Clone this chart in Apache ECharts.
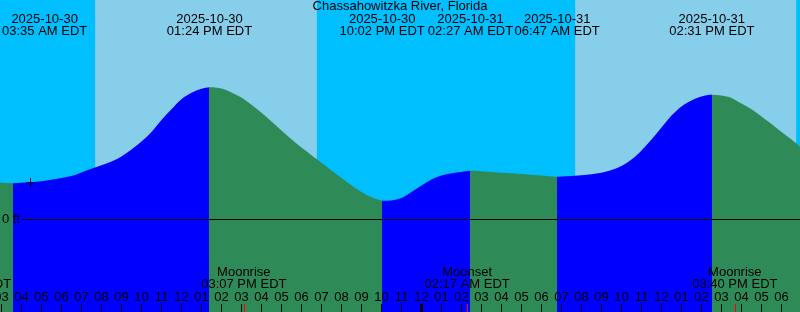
<!DOCTYPE html>
<html><head><meta charset="utf-8">
<script src="https://cdn.jsdelivr.net/npm/echarts@6/dist/echarts.min.js"></script>
<style>html,body{margin:0;padding:0;background:#fff}#c{width:800px;height:312px}</style>
</head><body><div id="c"></div>
<script>
// ---- data (times are local EDT, "MM-DD HH:MM") ----
const chartTitle = 'Chassahowitzka River, Florida';
const sampleTimes = ['10-30 02:55','10-30 03:00','10-30 04:00','10-30 05:00','10-30 06:00','10-30 06:30','10-30 07:00','10-30 07:30','10-30 08:00','10-30 08:30','10-30 09:00','10-30 09:30','10-30 10:00','10-30 10:30','10-30 11:00','10-30 11:30','10-30 12:00','10-30 12:30','10-30 13:00','10-30 14:00','10-30 14:30','10-30 15:00','10-30 15:30','10-30 16:00','10-30 16:30','10-30 17:00','10-30 17:30','10-30 18:00','10-30 18:30','10-30 19:00','10-30 19:30','10-30 20:00','10-30 20:30','10-30 21:00','10-30 21:30','10-30 22:00','10-30 22:30','10-30 23:00','10-30 23:30','10-31 00:00','10-31 00:30','10-31 01:00','10-31 01:30','10-31 02:00','10-31 03:00','10-31 04:00','10-31 05:00','10-31 06:00','10-31 07:00','10-31 08:00','10-31 09:00','10-31 09:30','10-31 10:00','10-31 10:30','10-31 11:00','10-31 11:30','10-31 12:00','10-31 12:30','10-31 13:00','10-31 13:30','10-31 14:00','10-31 15:00','10-31 15:30','10-31 16:00','10-31 16:30','10-31 17:00','10-31 17:30','10-31 18:00','10-31 18:30','10-31 19:00'];
const sampleLevels = [0.92,0.92,0.92,0.96,1.04,1.09,1.18,1.27,1.36,1.45,1.58,1.75,1.95,2.19,2.49,2.76,3.01,3.17,3.27,3.28,3.18,3.05,2.87,2.67,2.45,2.23,2.01,1.80,1.61,1.42,1.23,1.04,0.86,0.69,0.56,0.48,0.48,0.54,0.69,0.85,1.00,1.10,1.16,1.19,1.21,1.17,1.14,1.10,1.08,1.11,1.17,1.24,1.34,1.50,1.73,2.00,2.30,2.60,2.83,2.98,3.08,3.10,3.04,2.90,2.76,2.58,2.39,2.19,2.00,1.79];
const tideEventTimes = ['10-30 03:35','10-30 13:24','10-30 22:02','10-31 02:27','10-31 06:47','10-31 14:31'];
const tideEventKinds = ['low','high','low','high','low','high'];
const tideEventLevels = [0.91,3.31,0.47,1.22,1.07,3.12];
const tideEventDates = ['2025-10-30','2025-10-30','2025-10-30','2025-10-31','2025-10-31','2025-10-31'];
const tideEventClock = ['03:35 AM EDT','01:24 PM EDT','10:02 PM EDT','02:27 AM EDT','06:47 AM EDT','02:31 PM EDT'];
const sunriseTimes = ['10-30 07:41','10-31 07:41'];
const sunsetTimes = ['10-30 18:46','10-31 18:44'];
const moonEventTimes = ['10-30 01:21','10-30 15:07','10-31 02:17','10-31 15:40'];
const moonEventNames = ['Moonset','Moonrise','Moonset','Moonrise'];
const moonEventClock = ['01:21 AM EDT','03:07 PM EDT','02:17 AM EDT','03:40 PM EDT'];
const nowTime = '10-30 04:27';
const nowLevel = 0.925;
const hourTicks = [3,4,5,6,7,8,9,10,11,12,13,14,15,16,17,18,19,20,21,22,23,24,25,26,27,28,29,30,31,32,33,34,35,36,37,38,39,40,41,42,43];
const hourTickLabels = ['03','04','05','06','07','08','09','10','11','12','01','02','03','04','05','06','07','08','09','10','11','12','01','02','03','04','05','06','07','08','09','10','11','12','01','02','03','04','05','06','07'];
const midnightTimes = ['10-31 00:00'];
const zeroLabel = '0 ft';

// ---- styling ----
const NIGHT = '#00BFFF', DAY = '#87CEEB', RISING = '#0000FF', FALLING = '#2E8B57';
const FONT_FAMILY = '"Liberation Sans", Arial, sans-serif';
const FONT = '13px ' + FONT_FAMILY;
const X_MIN = 2.925, X_MAX = 42.925;   // hours since 2025-10-30 00:00
const Y_MIN = -2.31, Y_MAX = 5.49;     // ft

function toHours(s) {
  const [md, hm] = s.split(' ');
  const day = +md.split('-')[1];
  const [h, m] = hm.split(':').map(Number);
  return (day - 30) * 24 + h + m / 60;
}

// curve points: samples + extremes
const curve = sampleTimes.map((t, i) => [toHours(t), sampleLevels[i]])
  .concat(tideEventTimes.map((t, i) => [toHours(t), tideEventLevels[i]]))
  .sort((a, b) => a[0] - b[0]);

// rising / falling pieces
const evH = tideEventTimes.map(toHours);
const pieces = [];
pieces.push({ gte: -100, lt: evH[0], color: tideEventKinds[0] === 'low' ? FALLING : RISING });
for (let i = 0; i < evH.length; i++) {
  const next = i + 1 < evH.length ? evH[i + 1] : 100;
  const p = { gte: evH[i], color: tideEventKinds[i] === 'low' ? RISING : FALLING };
  if (i + 1 < evH.length) p.lt = next; else p.lte = next;
  pieces.push(p);
}

const dayAreas = sunriseTimes.map((t, i) => [
  { xAxis: toHours(t) }, { xAxis: toHours(sunsetTimes[i]) }
]);

const nowH = toHours(nowTime);
const chart = echarts.init(document.getElementById('c'), null, { renderer: 'canvas' });

const baseAxis = {
  type: 'value', min: X_MIN, max: X_MAX, position: 'bottom',
  axisLine: { show: false, onZero: false }, splitLine: { show: false }
};

chart.setOption({
  animation: false,
  backgroundColor: NIGHT,
  grid: { left: 0, right: 0, top: 0, bottom: 0, containLabel: false, outerBoundsMode: 'none' },
  xAxis: [
    Object.assign({}, baseAxis, {
      z: 10,
      axisTick: { show: true, inside: true, length: 8, customValues: hourTicks, lineStyle: { color: '#000', width: 1 } },
      axisLabel: {
        show: true, inside: true, margin: 15, verticalAlign: 'middle', customValues: hourTicks,
        color: '#000', fontSize: 13, fontFamily: FONT_FAMILY, hideOverlap: false,
        formatter: v => hourTickLabels[hourTicks.indexOf(Math.round(v))] || ''
      }
    }),
    Object.assign({}, baseAxis, {
      z: 11,
      axisTick: { show: true, inside: true, length: 8, customValues: midnightTimes.map(toHours), lineStyle: { color: '#000', width: 3 } },
      axisLabel: { show: false }
    }),
    Object.assign({}, baseAxis, {
      z: 11,
      axisTick: { show: true, inside: true, length: 8, customValues: moonEventTimes.map(toHours), lineStyle: { color: '#FF0000', width: 1 } },
      axisLabel: { show: false }
    })
  ],
  yAxis: { type: 'value', min: Y_MIN, max: Y_MAX, show: false, splitLine: { show: false } },
  visualMap: { type: 'piecewise', show: false, dimension: 0, seriesIndex: 0, pieces: pieces },
  series: [
    {
      type: 'line', xAxisIndex: 0, data: curve, smooth: 0.33, showSymbol: false, symbol: 'none',
      lineStyle: { width: 0 }, areaStyle: { opacity: 1, origin: 'start' }, silent: true, z: 2,
      markArea: { silent: true, itemStyle: { color: DAY }, data: dayAreas },
      markLine: {
        silent: true, symbol: ['none', 'none'],
        lineStyle: { color: '#000', width: 1, type: 'solid' },
        label: { show: true, position: 'start', distance: 2, formatter: zeroLabel, color: '#000', fontSize: 13, fontFamily: FONT_FAMILY },
        data: [[{ coord: [X_MIN + 1.1, 0] }, { coord: [X_MAX, 0] }]]
      }
    },
    {
      type: 'scatter', xAxisIndex: 0, symbol: 'rect', itemStyle: { color: '#000' }, z: 6, silent: true,
      data: [
        { value: [nowH, nowLevel], symbolSize: [9, 1] },
        { value: [nowH, nowLevel], symbolSize: [1, 9] }
      ]
    }
  ]
});

// text labels positioned through the x axis scale
const ctx = document.createElement('canvas').getContext('2d');
ctx.font = FONT;
const W = 800;
const graphics = [];
graphics.push({ type: 'text', z: 100, silent: true, style: { text: chartTitle, x: W / 2, y: 6.5, font: FONT, fill: '#000', align: 'center', verticalAlign: 'middle', textAlign: 'center', textVerticalAlign: 'middle' } });
tideEventTimes.forEach((t, i) => {
  let x = chart.convertToPixel({ xAxisIndex: 0 }, toHours(t));
  const w = Math.max(ctx.measureText(tideEventDates[i]).width, ctx.measureText(tideEventClock[i]).width);
  x = Math.max(x, w / 2 + 2);
  x = Math.min(x, W - w / 2 - 2);
  graphics.push({ type: 'text', z: 100, silent: true, style: {
    text: tideEventDates[i] + '\n' + tideEventClock[i], x: x, y: 25.4, font: FONT, fill: '#000',
    lineHeight: 12, align: 'center', verticalAlign: 'middle', textAlign: 'center', textVerticalAlign: 'middle' } });
});
moonEventTimes.forEach((t, i) => {
  const x = chart.convertToPixel({ xAxisIndex: 0 }, toHours(t));
  graphics.push({ type: 'text', z: 100, silent: true, style: {
    text: moonEventNames[i] + '\n' + moonEventClock[i], x: x, y: 278.5, font: FONT, fill: '#000',
    lineHeight: 12, align: 'center', verticalAlign: 'middle', textAlign: 'center', textVerticalAlign: 'middle' } });
});
chart.setOption({ graphic: graphics });
</script>
</body></html>
